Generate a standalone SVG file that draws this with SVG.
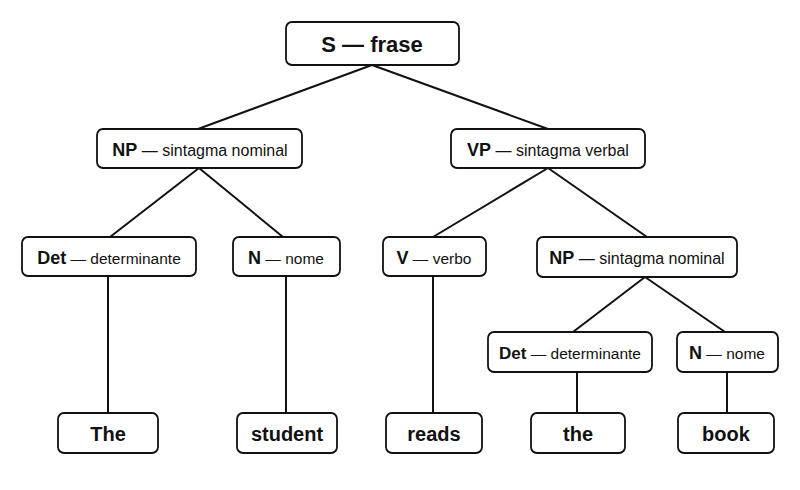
<svg xmlns="http://www.w3.org/2000/svg" width="800" height="490" viewBox="0 0 800 490">
<style>
rect{fill:#fff;stroke:#111;stroke-width:1.8}
text{font-family:"Liberation Sans",Arial,sans-serif;fill:#111;text-anchor:middle}
.b{font-weight:bold}
#edges line{stroke:#111;stroke-width:2}
.l{font-size:18px}.m{font-size:16px}.s{font-size:15.5px}
</style>
<rect x="0" y="0" width="800" height="490" style="fill:#fff;stroke:none"/>
<g id="edges">
<line x1="372" y1="65" x2="198" y2="129"/>
<line x1="372" y1="65" x2="548" y2="129"/>
<line x1="199" y1="168" x2="110" y2="237"/>
<line x1="199" y1="168" x2="283" y2="237"/>
<line x1="548" y1="168" x2="433" y2="237"/>
<line x1="548" y1="168" x2="647" y2="237"/>
<line x1="645" y1="277" x2="573" y2="332"/>
<line x1="645" y1="277" x2="725" y2="332"/>
<line x1="108" y1="276" x2="108" y2="413"/>
<line x1="286" y1="276" x2="286" y2="413"/>
<line x1="433" y1="276" x2="433" y2="413"/>
<line x1="577" y1="372" x2="577" y2="413"/>
<line x1="727" y1="372" x2="727" y2="413"/>
</g>
<g id="S"><rect x="286" y="22" width="173" height="43" rx="6"/><text x="372" y="52" class="b" font-size="22">S — frase</text></g>
<g id="NP1"><rect x="97" y="129" width="205" height="39" rx="6"/><text x="200" y="156" class="m"><tspan class="b l">NP</tspan> — sintagma nominal</text></g>
<g id="VP"><rect x="451" y="129" width="194" height="39" rx="6"/><text x="548" y="156" class="m"><tspan class="b l">VP</tspan> — sintagma verbal</text></g>
<g id="Det1"><rect x="22" y="237" width="174" height="39" rx="6"/><text x="109" y="264" class="s"><tspan class="b l">Det</tspan> — determinante</text></g>
<g id="N1"><rect x="233" y="237" width="107" height="39" rx="6"/><text x="286" y="264" class="s"><tspan class="b l">N</tspan> — nome</text></g>
<g id="V"><rect x="383" y="237" width="103" height="39" rx="6"/><text x="434" y="264" class="s"><tspan class="b l">V</tspan> — verbo</text></g>
<g id="NP2"><rect x="537" y="237" width="200" height="40" rx="6"/><text x="637" y="264" class="m"><tspan class="b l">NP</tspan> — sintagma nominal</text></g>
<g id="Det2"><rect x="488" y="332" width="164" height="40" rx="6"/><text x="570" y="359" class="s" font-size="15"><tspan class="b" font-size="17">Det</tspan> — determinante</text></g>
<g id="N2"><rect x="677" y="332" width="101" height="40" rx="6"/><text x="727" y="359" class="s"><tspan class="b l">N</tspan> — nome</text></g>
<g id="The"><rect x="58" y="413" width="100" height="40" rx="6"/><text x="108" y="441" class="b" font-size="20">The</text></g>
<g id="student"><rect x="237" y="413" width="100" height="40" rx="6"/><text x="287" y="441" class="b" font-size="20">student</text></g>
<g id="reads"><rect x="386" y="413" width="96" height="40" rx="6"/><text x="434" y="441" class="b" font-size="20">reads</text></g>
<g id="the"><rect x="531" y="413" width="94" height="40" rx="6"/><text x="578" y="441" class="b" font-size="20">the</text></g>
<g id="book"><rect x="678" y="413" width="96" height="40" rx="6"/><text x="726" y="441" class="b" font-size="20">book</text></g>
</svg>
